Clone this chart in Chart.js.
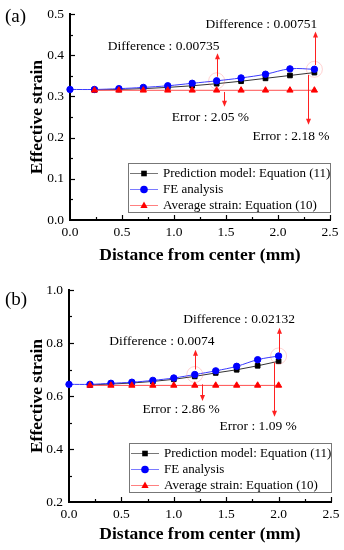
<!DOCTYPE html>
<html>
<head>
<meta charset="utf-8">
<script src="https://cdn.jsdelivr.net/npm/chart.js@4.4.0/dist/chart.umd.min.js"></script>
<style>
  html, body { margin: 0; padding: 0; background: #fff; }
  #wrap { position: relative; width: 344px; height: 550px; }
  .panel { position: absolute; left: 0; width: 344px; }
  #panelA { top: 0; height: 272px; }
  #panelB { top: 272px; height: 278px; }
</style>
</head>
<body>
<div id="wrap">
  <div class="panel" id="panelA"><canvas id="chartA" width="344" height="272"></canvas></div>
  <div class="panel" id="panelB"><canvas id="chartB" width="344" height="278"></canvas></div>
</div>
<script>
// ---- (a) data ----
var distA = [0, 0.235, 0.47, 0.705, 0.94, 1.175, 1.41, 1.645, 1.88, 2.115, 2.35];
var feA   = [0.317, 0.317, 0.319, 0.322, 0.326, 0.332, 0.338, 0.345, 0.354, 0.367, 0.366];
var predA = [0.316, 0.317, 0.319, 0.322, 0.326, 0.331, 0.337, 0.344, 0.351, 0.358];   // from 0.235
var avgA  = [0.315, 0.315, 0.315, 0.315, 0.315, 0.315, 0.315, 0.315, 0.315, 0.315];   // from 0.235
var yTicksA = { min: 0, max: 0.5, step: 0.1 };

// ---- (b) data ----
var distB = [0, 0.2, 0.4, 0.6, 0.8, 1.0, 1.2, 1.4, 1.6, 1.8, 2.0];
var feB   = [0.644, 0.644, 0.648, 0.652, 0.659, 0.668, 0.681, 0.695, 0.712, 0.737, 0.751];
var predB = [0.642, 0.645, 0.649, 0.655, 0.663, 0.674, 0.687, 0.699, 0.714, 0.731];   // from 0.2
var avgB  = [0.640, 0.640, 0.640, 0.640, 0.640, 0.640, 0.640, 0.640, 0.640, 0.640];   // from 0.2
var yTicksB = { min: 0.2, max: 1.0, step: 0.2 };

var xTicks = { min: 0, max: 2.5, step: 0.5 };

var seriesNames = ['Prediction model: Equation (11)', 'FE analysis', 'Average strain: Equation (10)'];

// annotations in data units: text centre (tx, ty), arrow at ax from -> to
var notesA = [
    { text: 'Difference : 0.00735', tx: 0.90, ty: 0.422, ax: 1.41, from: 0.348, to: 0.405 },
    { text: 'Difference : 0.00751', tx: 1.84, ty: 0.476, ax: 2.355, from: 0.376, to: 0.458 },
    { text: 'Error : 2.05 %', tx: 1.35, ty: 0.250, ax: 1.484, from: 0.311, to: 0.275 },
    { text: 'Error : 2.18 %', tx: 2.125, ty: 0.204, ax: 2.29, from: 0.352, to: 0.231 }
];
var notesB = [
    { text: 'Difference : 0.02132', tx: 1.624, ty: 0.888, ax: 2.0, from: 0.764, to: 0.858 },
    { text: 'Difference : 0.0074', tx: 0.886, ty: 0.806, ax: 1.2, from: 0.700, to: 0.775 },
    { text: 'Error : 2.86 %', tx: 1.07, ty: 0.550, ax: 1.27, from: 0.644, to: 0.581 },
    { text: 'Error : 1.09 %', tx: 1.805, ty: 0.484, ax: 1.957, from: 0.726, to: 0.522 }
];
var halosA = [6, 10];   // indices into FE series
var halosB = [6, 10];

var SERIF = '"Liberation Serif", "Times New Roman", serif';

function pts(xs, ys) {
    return ys.map(function (v, i) { return { x: xs[i], y: v }; });
}

function marker(ctx, style, x, y, color) {
    ctx.fillStyle = color;
    ctx.beginPath();
    if (style === 'rect') {
        ctx.rect(x - 2.8, y - 2.8, 5.6, 5.6);
    } else if (style === 'circle') {
        ctx.arc(x, y, 3.8, 0, Math.PI * 2);
    } else {
        ctx.moveTo(x, y - 4);
        ctx.lineTo(x + 3.6, y + 2.4);
        ctx.lineTo(x - 3.6, y + 2.4);
        ctx.closePath();
    }
    ctx.fill();
}

var legendLine = ['#777777', '#7a7aff', '#ff8080'];

var figurePlugin = {
    id: 'figure',
    afterDatasetsDraw: function (chart, args, o) {
        var ctx = chart.ctx, area = chart.chartArea;
        var xs = chart.scales.x, ys = chart.scales.y;
        ctx.save();

        // inward ticks
        ctx.strokeStyle = '#000';
        ctx.lineWidth = 1.2;
        var ny = Math.round((ys.max - ys.min) / (o.yStep / 2));
        for (var i = 1; i <= ny; i++) {
            var py = Math.round(ys.getPixelForValue(ys.min + i * o.yStep / 2)) + 0.5;
            var len = (i % 2 === 0) ? 5 : 3;
            ctx.beginPath(); ctx.moveTo(area.left, py); ctx.lineTo(area.left + len, py); ctx.stroke();
        }
        var nx = Math.round((xs.max - xs.min) / (o.xStep / 2));
        for (var j = 1; j <= nx; j++) {
            var px = Math.round(xs.getPixelForValue(xs.min + j * o.xStep / 2)) + 0.5;
            var lenx = (j % 2 === 0) ? 5 : 3;
            ctx.beginPath(); ctx.moveTo(px, area.bottom); ctx.lineTo(px, area.bottom - lenx); ctx.stroke();
        }

        // halos round the FE points
        var fe = chart.data.datasets[1].data;
        ctx.strokeStyle = 'rgba(255, 80, 80, 0.25)';
        ctx.lineWidth = 1;
        o.halos.forEach(function (k) {
            ctx.beginPath();
            ctx.arc(xs.getPixelForValue(fe[k].x), ys.getPixelForValue(fe[k].y), 8, 0, Math.PI * 2);
            ctx.stroke();
        });

        // arrows + notes
        ctx.strokeStyle = '#ff2020';
        ctx.fillStyle = '#ff2020';
        o.notes.forEach(function (n) {
            var ax = Math.round(xs.getPixelForValue(n.ax)) + 0.5;
            var y0 = ys.getPixelForValue(n.from), y1 = ys.getPixelForValue(n.to);
            var dir = y1 < y0 ? 1 : -1;
            ctx.beginPath(); ctx.moveTo(ax, y0); ctx.lineTo(ax, y1 + dir * 4); ctx.stroke();
            ctx.beginPath();
            ctx.moveTo(ax, y1);
            ctx.lineTo(ax - 2.5, y1 + dir * 6);
            ctx.lineTo(ax + 2.5, y1 + dir * 6);
            ctx.closePath(); ctx.fill();
        });
        ctx.fillStyle = '#000';
        ctx.font = '13.5px ' + SERIF;
        ctx.textAlign = 'center';
        ctx.textBaseline = 'middle';
        o.notes.forEach(function (n) {
            ctx.fillText(n.text, xs.getPixelForValue(n.tx), ys.getPixelForValue(n.ty));
        });

        // legend box
        var bw = 202, bh = 49;
        var bx = area.right - bw, by = area.bottom - o.legendGap - bh;
        ctx.fillStyle = '#fff';
        ctx.fillRect(bx, by, bw, bh);
        ctx.strokeStyle = '#777';
        ctx.lineWidth = 1;
        ctx.strokeRect(Math.round(bx) + 0.5, Math.round(by) + 0.5, bw, bh);
        ctx.font = '13px ' + SERIF;
        ctx.textAlign = 'left';
        [0, 1, 2].forEach(function (k, r) {
            var ds = chart.data.datasets[k];
            var ry = Math.round(by + 10 + r * 16) + 0.5;
            ctx.strokeStyle = legendLine[k];
            ctx.lineWidth = 1;
            ctx.beginPath(); ctx.moveTo(bx + 2, ry); ctx.lineTo(bx + 30, ry); ctx.stroke();
            marker(ctx, ds.pointStyle, bx + 16, ry, ds.backgroundColor);
            ctx.fillStyle = '#000';
            ctx.fillText(ds.label, bx + 35, ry + 0.5);
        });

        // axis titles
        ctx.font = 'bold 17.5px ' + SERIF;
        ctx.textAlign = 'center';
        ctx.fillText('Distance from center (mm)', (area.left + area.right) / 2, area.bottom + o.xTitleGap);
        ctx.save();
        ctx.translate(37, (area.top + area.bottom) / 2);
        ctx.rotate(-Math.PI / 2);
        ctx.fillText('Effective strain', 0, 0);
        ctx.restore();

        // panel label
        ctx.font = '19px ' + SERIF;
        ctx.textAlign = 'left';
        ctx.fillText(o.panel, 5, o.panelY);

        ctx.restore();
    }
};

function buildChart(id, dist, fe, pred, avg, yt, cfg) {
    var tickFont = { family: SERIF, size: 13.5 };
    return new Chart(document.getElementById(id), {
        type: 'line',
        data: {
            datasets: [{
                label: seriesNames[0],
                data: pts(dist.slice(1), pred),
                borderColor: '#333333',
                backgroundColor: '#000000',
                borderWidth: 1,
                pointStyle: 'rect',
                pointRadius: 3.3,
                pointBorderWidth: 1,
                pointBorderColor: '#000000',
                tension: 0,
                order: 2,
                clip: false
            }, {
                label: seriesNames[1],
                data: pts(dist, fe),
                borderColor: '#3a3aff',
                backgroundColor: '#0000ff',
                borderWidth: 1,
                pointStyle: 'circle',
                pointRadius: 3.2,
                pointBorderWidth: 1,
                pointBorderColor: '#0000ff',
                tension: 0.4,
                order: 1,
                clip: false
            }, {
                label: seriesNames[2],
                data: pts(dist.slice(1), avg),
                borderColor: '#ff5050',
                backgroundColor: '#ff0000',
                borderWidth: 1,
                pointStyle: 'triangle',
                pointRadius: 3.6,
                pointBorderWidth: 1,
                pointBorderColor: '#ff0000',
                tension: 0,
                order: 0,
                clip: false
            }]
        },
        options: {
            responsive: false,
            animation: false,
            layout: { padding: { top: cfg.padTop, right: cfg.padRight, left: 0, bottom: 0 } },
            plugins: {
                legend: { display: false },
                tooltip: { enabled: false },
                figure: {
                    yStep: yt.step, xStep: xTicks.step,
                    notes: cfg.notes, halos: cfg.halos,
                    legendGap: cfg.legendGap, xTitleGap: cfg.xTitleGap,
                    panel: cfg.panel, panelY: cfg.panelY
                }
            },
            scales: {
                x: {
                    type: 'linear',
                    min: xTicks.min, max: xTicks.max,
                    ticks: {
                        stepSize: xTicks.step, font: tickFont, color: '#000', padding: 4, maxRotation: 0,
                        callback: function (v) { return v.toFixed(1); }
                    },
                    grid: { display: false, drawTicks: false },
                    border: { color: '#000', width: 2 },
                    afterFit: function (s) { s.height = cfg.xAxisH; }
                },
                y: {
                    min: yt.min, max: yt.max,
                    ticks: {
                        stepSize: yt.step, font: tickFont, color: '#000', padding: 6,
                        callback: function (v) { return v.toFixed(1); }
                    },
                    grid: { display: false, drawTicks: false },
                    border: { color: '#000', width: 2 },
                    afterFit: function (s) { s.width = cfg.yAxisW; }
                }
            }
        },
        plugins: [figurePlugin]
    });
}

buildChart('chartA', distA, feA, predA, avgA, yTicksA, {
    padTop: 14, padRight: 14, xAxisH: 52, yAxisW: 70,
    notes: notesA, halos: halosA, legendGap: 8, xTitleGap: 35,
    panel: '(a)', panelY: 17
});
buildChart('chartB', distB, feB, predB, avgB, yTicksB, {
    padTop: 18, padRight: 13, xAxisH: 48, yAxisW: 69,
    notes: notesB, halos: halosB, legendGap: 10, xTitleGap: 32,
    panel: '(b)', panelY: 28
});
</script>
</body>
</html>
